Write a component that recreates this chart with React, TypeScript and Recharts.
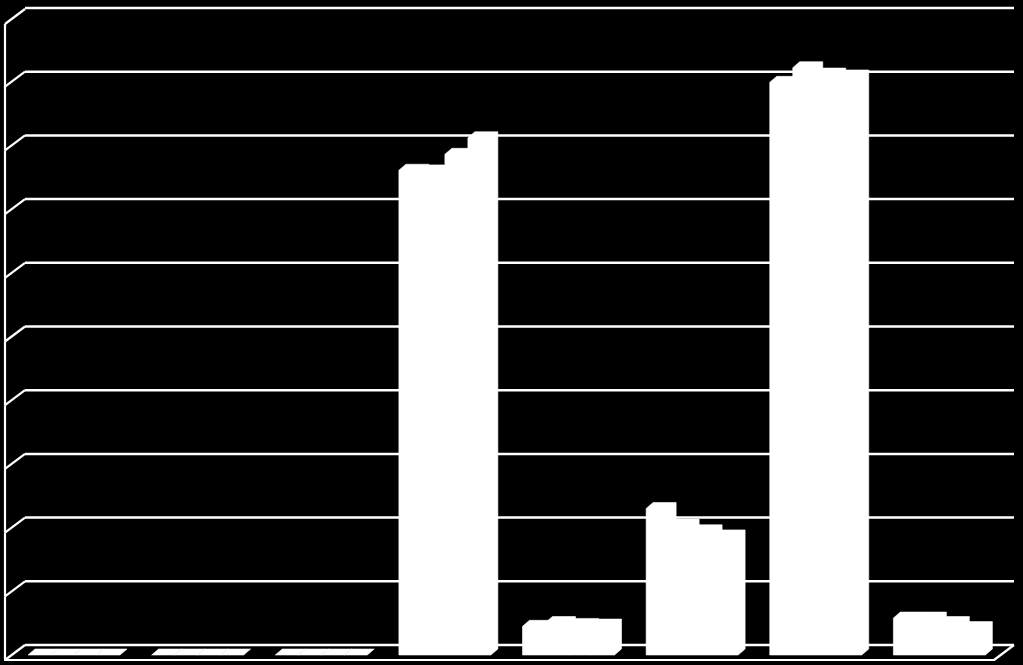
import { BarChart, Bar, XAxis, YAxis, CartesianGrid } from "recharts"

// categories (no labels are shown in the chart)
const categories = ["C1", "C2", "C3", "C4", "C5", "C6", "C7", "C8"]

// four series per category (axis 0..100, gridline every 10)
const series1 = [0, 0, 0, 76.1, 4.5, 23.0, 89.9, 5.8]
const series2 = [0, 0, 0, 76.0, 5.1, 20.4, 92.2, 5.8]
const series3 = [0, 0, 0, 78.6, 4.8, 19.5, 91.2, 5.1]
const series4 = [0, 0, 0, 81.2, 4.7, 18.7, 90.9, 4.3]

const yTicks = [0, 10, 20, 30, 40, 50, 60, 70, 80, 90, 100]

const data = categories.map((name, i) => ({
  name,
  s1: series1[i],
  s2: series2[i],
  s3: series3[i],
  s4: series4[i],
}))

// layout
const W = 1023
const H = 665
const MARGIN = { top: 8, right: 9, left: 0, bottom: 0 }
const Y_AXIS_W = 25
const X_AXIS_H = 20
const PLOT_LEFT = MARGIN.left + Y_AXIS_W
const PLOT_W = W - PLOT_LEFT - MARGIN.right
const PLOT_H = H - MARGIN.top - MARGIN.bottom - X_AXIS_H
const PLOT_BOTTOM = MARGIN.top + PLOT_H

// 3d look
const WALL_DX = 20 // side wall / floor depth
const WALL_DY = 15
const BAR_DX = 7 // bar depth
const BAR_DY = 6
const BAR_SHIFT = 6.8 // bars stand in front of the back wall
const BAR_LIFT = 4

const LINE = "#ffffff"

function Box3D(props: any) {
  const { x, y, width, height } = props
  if (x == null || y == null) return null
  const bx = x - BAR_SHIFT
  const fx = bx - BAR_DX
  const bTop = y + BAR_LIFT
  const bBot = y + (height || 0) + BAR_LIFT
  const fTop = bTop + BAR_DY
  const fBot = bBot + BAR_DY
  const pts = [
    [fx, fTop],
    [bx, bTop],
    [bx + width, bTop],
    [bx + width, bBot],
    [fx + width, fBot],
    [fx, fBot],
  ]
  return (
    <polygon
      points={pts.map((p) => p.join(",")).join(" ")}
      fill="#ffffff"
      stroke="#ffffff"
      strokeWidth={0.6}
      strokeLinejoin="round"
    />
  )
}

// left side wall drawn from the y ticks
function WallTick(props: any) {
  const { y, payload } = props
  const step = PLOT_H / (yTicks.length - 1)
  const x0 = PLOT_LEFT - WALL_DX
  return (
    <g>
      <line x1={x0} y1={y + WALL_DY} x2={PLOT_LEFT} y2={y} stroke={LINE} strokeWidth={2.2} />
      {payload.value > 0 && (
        <line x1={x0} y1={y + WALL_DY} x2={x0} y2={y + WALL_DY + step} stroke={LINE} strokeWidth={2.2} />
      )}
    </g>
  )
}

// front edge of the floor drawn from the x ticks
function FloorTick(props: any) {
  const { x, index } = props
  const band = PLOT_W / categories.length
  const yf = PLOT_BOTTOM + WALL_DY
  const x1 = x - band / 2 - WALL_DX
  const x2 = x + band / 2 - WALL_DX
  return (
    <g>
      <line x1={x1 - 1} y1={yf} x2={x2 + 1} y2={yf} stroke={LINE} strokeWidth={2.2} />
      {index === categories.length - 1 && (
        <line x1={x2} y1={yf} x2={x2 + WALL_DX} y2={PLOT_BOTTOM} stroke={LINE} strokeWidth={2.2} />
      )}
    </g>
  )
}

export default function App() {
  return (
    <div style={{ position: "absolute", left: 0, top: 0, width: W, height: H, background: "#000" }}>
      <BarChart width={W} height={H} data={data} margin={MARGIN} barGap={0} barCategoryGap={16.8}>
        <CartesianGrid vertical={false} stroke={LINE} strokeWidth={2.5} strokeOpacity={1} />
        <XAxis
          dataKey="name"
          height={X_AXIS_H}
          axisLine={false}
          tickLine={false}
          interval={0}
          tick={<FloorTick />}
        />
        <YAxis
          width={Y_AXIS_W}
          domain={[0, 100]}
          ticks={yTicks}
          axisLine={false}
          tickLine={false}
          tick={<WallTick />}
        />
        <Bar dataKey="s1" shape={<Box3D />} isAnimationActive={false} />
        <Bar dataKey="s2" shape={<Box3D />} isAnimationActive={false} />
        <Bar dataKey="s3" shape={<Box3D />} isAnimationActive={false} />
        <Bar dataKey="s4" shape={<Box3D />} isAnimationActive={false} />
      </BarChart>
    </div>
  )
}
